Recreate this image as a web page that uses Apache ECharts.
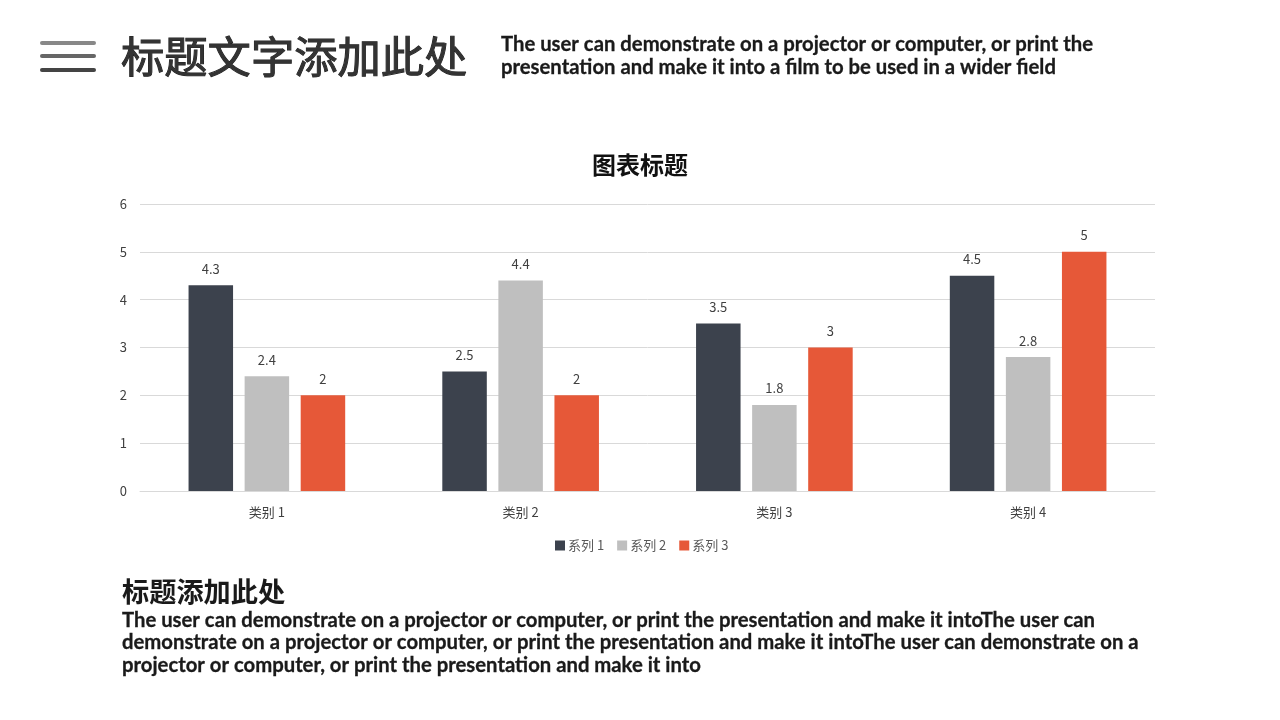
<!DOCTYPE html>
<html>
<head>
<meta charset="utf-8">
<style>
html, body { margin: 0; padding: 0; background: #fff; }
#chart { width: 1280px; height: 720px; }
</style>
<script src="https://cdn.jsdelivr.net/npm/echarts@6/dist/echarts.min.js"></script>
</head>
<body>
<div id="chart"></div>
<script>
var categories = ['类别 1', '类别 2', '类别 3', '类别 4'];
var seriesNames = ['系列 1', '系列 2', '系列 3'];
var series1 = [4.3, 2.5, 3.5, 4.5];
var series2 = [2.4, 4.4, 1.8, 2.8];
var series3 = [2, 2, 3, 5];
var colors = ['#3C424D', '#BFBFBF', '#E65838'];

var font = '"Noto Sans CJK SC", "Open Sans", sans-serif';
var textFont = 'Lato, "Noto Sans CJK SC", sans-serif';

var headText = 'The user can demonstrate on a projector or computer, or print the\npresentation and make it into a film to be used in a wider field';
var bodyText = 'The user can demonstrate on a projector or computer, or print the presentation and make it intoThe user can\n' +
    'demonstrate on a projector or computer, or print the presentation and make it intoThe user can demonstrate on a\n' +
    'projector or computer, or print the presentation and make it into';

function makeBar(name, values) {
    return {
        name: name,
        type: 'bar',
        data: values,
        barWidth: 44.5,
        barGap: '26%',
        label: {
            show: true,
            position: 'top',
            distance: 10,
            fontFamily: font,
            fontSize: 13,
            color: '#404040'
        }
    };
}

var chart = echarts.init(document.getElementById('chart'), null, { renderer: 'canvas' });
chart.setOption({
    animation: false,
    color: colors,
    title: {
        text: '图表标题',
        left: 587,
        top: 148,
        textStyle: { fontFamily: font, fontSize: 24, fontWeight: 'bold', color: '#111' }
    },
    legend: {
        data: seriesNames,
        top: 534,
        left: 550,
        itemWidth: 10,
        itemHeight: 10,
        itemGap: 13,
        icon: 'rect',
        textStyle: { fontFamily: font, fontSize: 13, color: '#595959', padding: [0, 0, 0, -2] }
    },
    grid: { left: 140, right: 125, top: 204, height: 287 },
    xAxis: {
        type: 'category',
        data: categories,
        axisTick: { show: false },
        axisLine: { lineStyle: { color: '#D9D9D9' } },
        axisLabel: { fontFamily: font, fontSize: 13, color: '#404040', margin: 15 }
    },
    yAxis: {
        type: 'value',
        min: 0,
        max: 6,
        interval: 1,
        axisLine: { show: false },
        axisTick: { show: false },
        splitLine: { lineStyle: { color: '#D9D9D9' } },
        axisLabel: { fontFamily: font, fontSize: 13, color: '#404040', margin: 13 }
    },
    series: [
        makeBar(seriesNames[0], series1),
        makeBar(seriesNames[1], series2),
        makeBar(seriesNames[2], series3)
    ],
    graphic: [
        { type: 'rect', shape: { x: 40, y: 41, width: 56, height: 4, r: 2 }, style: { fill: '#888888' } },
        { type: 'rect', shape: { x: 40, y: 54, width: 56, height: 4, r: 2 }, style: { fill: '#666666' } },
        { type: 'rect', shape: { x: 40, y: 68, width: 56, height: 4, r: 2 }, style: { fill: '#444444' } },
        { type: 'text', x: 121, y: 35, style: { text: '标题文字添加此处', fontFamily: font, fontSize: 43.3, fill: '#333', stroke: '#222', lineWidth: 1 } },
        { type: 'text', x: 501, y: 33, style: { text: headText, fontFamily: textFont, fontSize: 20.3, fontWeight: 'bold', lineHeight: 23, fill: '#1a1a1a', stroke: '#1a1a1a', lineWidth: 0.3 } },
        { type: 'text', x: 122, y: 578, style: { text: '标题添加此处', fontFamily: font, fontSize: 27.2, fontWeight: 'bold', fill: '#1a1a1a' } },
        { type: 'text', x: 122, y: 609, style: { text: bodyText, fontFamily: textFont, fontSize: 20.3, fontWeight: 'bold', lineHeight: 22.5, fill: '#1a1a1a', stroke: '#1a1a1a', lineWidth: 0.3 } }
    ]
});
</script>
</body>
</html>
